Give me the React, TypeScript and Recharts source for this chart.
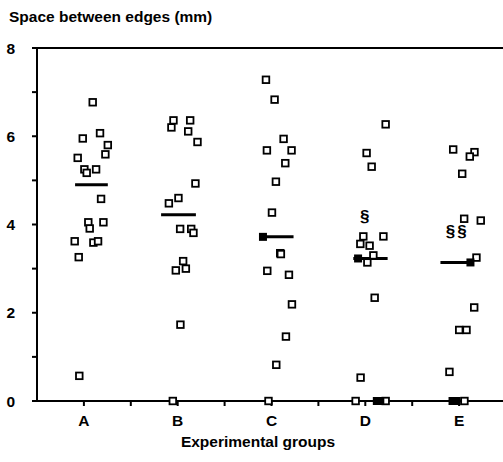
import React from "react";
import { ReferenceLine, Scatter, ScatterChart, XAxis, YAxis } from "recharts";

const groups = ["A", "B", "C", "D", "E"];
const yTicks = [0, 1, 2, 3, 4, 5, 6, 7, 8];
const xTicks = [1, 1.5, 2, 2.5, 3, 3.5, 4, 4.5, 5];

// [position along the group axis, space between edges in mm]
const groupA: [number, number][] = [
  [1.094, 6.77], [1.172, 6.07], [0.988, 5.95], [1.255, 5.8], [1.229, 5.59],
  [0.934, 5.51], [1.005, 5.25], [1.13, 5.25], [1.03, 5.17], [1.183, 4.58],
  [1.047, 4.05], [1.208, 4.05], [1.062, 3.91], [0.902, 3.62], [1.101, 3.59],
  [1.151, 3.62], [0.945, 3.26], [0.951, 0.57],
];
const groupB: [number, number][] = [
  [1.955, 6.36], [2.133, 6.36], [1.933, 6.2], [2.112, 6.11], [2.211, 5.87],
  [2.189, 4.93], [2.008, 4.6], [1.906, 4.48], [2.026, 3.9], [2.144, 3.9],
  [2.168, 3.81], [2.058, 3.17], [1.98, 2.96], [2.087, 3.0], [2.029, 1.73],
  [1.948, 0],
];
const groupC: [number, number][] = [
  [2.941, 7.28], [3.033, 6.83], [3.129, 5.94], [2.951, 5.68], [3.214, 5.68],
  [3.147, 5.39], [3.047, 4.97], [3.005, 4.27], [3.093, 3.35], [3.1, 3.33],
  [2.955, 2.95], [3.186, 2.86], [3.218, 2.19], [3.154, 1.46], [3.051, 0.82],
  [2.968, 0],
];
const groupD: [number, number][] = [
  [4.217, 6.27], [4.014, 5.62], [4.068, 5.31], [3.979, 3.73], [4.193, 3.73],
  [3.947, 3.56], [4.046, 3.52], [4.086, 3.3], [4.022, 3.14], [4.1, 2.34],
  [3.95, 0.53], [3.897, 0], [4.217, 0],
];
const groupE: [number, number][] = [
  [4.937, 5.7], [5.164, 5.64], [5.114, 5.54], [5.033, 5.15], [5.054, 4.13],
  [5.231, 4.09], [5.185, 3.25], [5.161, 2.12], [5.001, 1.61], [5.079, 1.61],
  [4.897, 0.66], [5.057, 0],
];
// points lying on top of each other, printed as solid marks
const coincident: [number, number][] = [
  [2.909, 3.72], [3.923, 3.23], [5.121, 3.14],
  [4.123, 0], [4.16, 0], [4.93, 0], [4.973, 0],
];

const medians = [4.9, 4.22, 3.72, 3.23, 3.14];
const medianFrom = [0.906, 1.823, 2.88, 3.872, 4.801];
const medianTo = [1.255, 2.194, 3.235, 4.238, 5.153];

// significance marks
const signs: [number, number, string][] = [
  [3.993, 4.18, "§"],
  [4.908, 3.84, "§"],
  [5.03, 3.84, "§"],
];

const font = "'Liberation Sans', Arial, sans-serif";

const toPoints = (arr: [number, number][]) => arr.map(([x, y]) => ({ x, y }));

const OpenSquare = (props: any) => (
  <rect
    x={props.cx - 3.3}
    y={props.cy - 3.3}
    width={6.6}
    height={6.6}
    fill="#fff"
    stroke="#000"
    strokeWidth={1.8}
  />
);

const SolidSquare = (props: any) => (
  <rect x={props.cx - 4} y={props.cy - 4} width={8} height={8} fill="#000" />
);

const SignMark = (props: any) => (
  <text
    x={props.cx}
    y={props.cy}
    textAnchor="middle"
    dominantBaseline="central"
    fontFamily={font}
    fontWeight="bold"
    fontSize={17}
    fill="#000"
  >
    {props.payload.mark}
  </text>
);

export default function App() {
  const openGroups = [groupA, groupB, groupC, groupD, groupE];

  return (
    <div
      style={{
        position: "absolute",
        left: 0,
        top: 0,
        width: 503,
        height: 462,
        overflow: "hidden",
        background: "#fff",
        fontFamily: font,
      }}
    >
      <ScatterChart
        width={506}
        height={462}
        margin={{ top: 48, right: 0, bottom: 0, left: 0 }}
      >
        <XAxis
          type="number"
          dataKey="x"
          domain={[0.5, 5.5]}
          ticks={xTicks}
          interval={0}
          height={61}
          tickSize={5}
          tickMargin={9}
          stroke="#000"
          strokeWidth={2}
          tickFormatter={(v: number) => (Number.isInteger(v) ? groups[v - 1] : "")}
          tick={{ fill: "#000", fontSize: 15.5, fontWeight: "bold", fontFamily: font }}
        />
        {/* bare top axis used as the frame line at 8 mm */}
        <XAxis
          xAxisId="top"
          orientation="top"
          type="number"
          domain={[0.5, 5.5]}
          height={0}
          ticks={[]}
          tick={false}
          tickLine={false}
          stroke="#000"
          strokeWidth={2}
        />
        <YAxis
          type="number"
          dataKey="y"
          domain={[0, 8]}
          ticks={yTicks}
          interval={0}
          width={37}
          tickSize={5}
          tickMargin={17}
          stroke="#000"
          strokeWidth={2}
          tickFormatter={(v: number) => (v % 2 === 0 ? String(v) : "")}
          tick={{ fill: "#000", fontSize: 15.5, fontWeight: "bold", fontFamily: font }}
        />

        <ReferenceLine y={8} stroke="#000" strokeWidth={2} ifOverflow="extendDomain" />

        {medians.map((m, i) => (
          <ReferenceLine
            key={`median-${i}`}
            segment={[
              { x: medianFrom[i], y: m },
              { x: medianTo[i], y: m },
            ]}
            stroke="#000"
            strokeWidth={3}
            ifOverflow="visible"
          />
        ))}

        {openGroups.map((g, i) => (
          <Scatter
            key={`group-${groups[i]}`}
            data={toPoints(g)}
            shape={OpenSquare}
            isAnimationActive={false}
          />
        ))}
        <Scatter data={toPoints(coincident)} shape={SolidSquare} isAnimationActive={false} />
        <Scatter
          data={signs.map(([x, y, mark]) => ({ x, y, mark }))}
          shape={SignMark}
          isAnimationActive={false}
        />
      </ScatterChart>

      <div
        style={{
          position: "absolute",
          left: 9,
          top: 8,
          fontSize: 15.5,
          fontWeight: "bold",
          lineHeight: "18px",
          color: "#000",
        }}
      >
        Space between edges (mm)
      </div>
      <div
        style={{
          position: "absolute",
          left: 0,
          width: 516,
          top: 433,
          textAlign: "center",
          fontSize: 15.5,
          fontWeight: "bold",
          lineHeight: "18px",
          color: "#000",
        }}
      >
        Experimental groups
      </div>
    </div>
  );
}
